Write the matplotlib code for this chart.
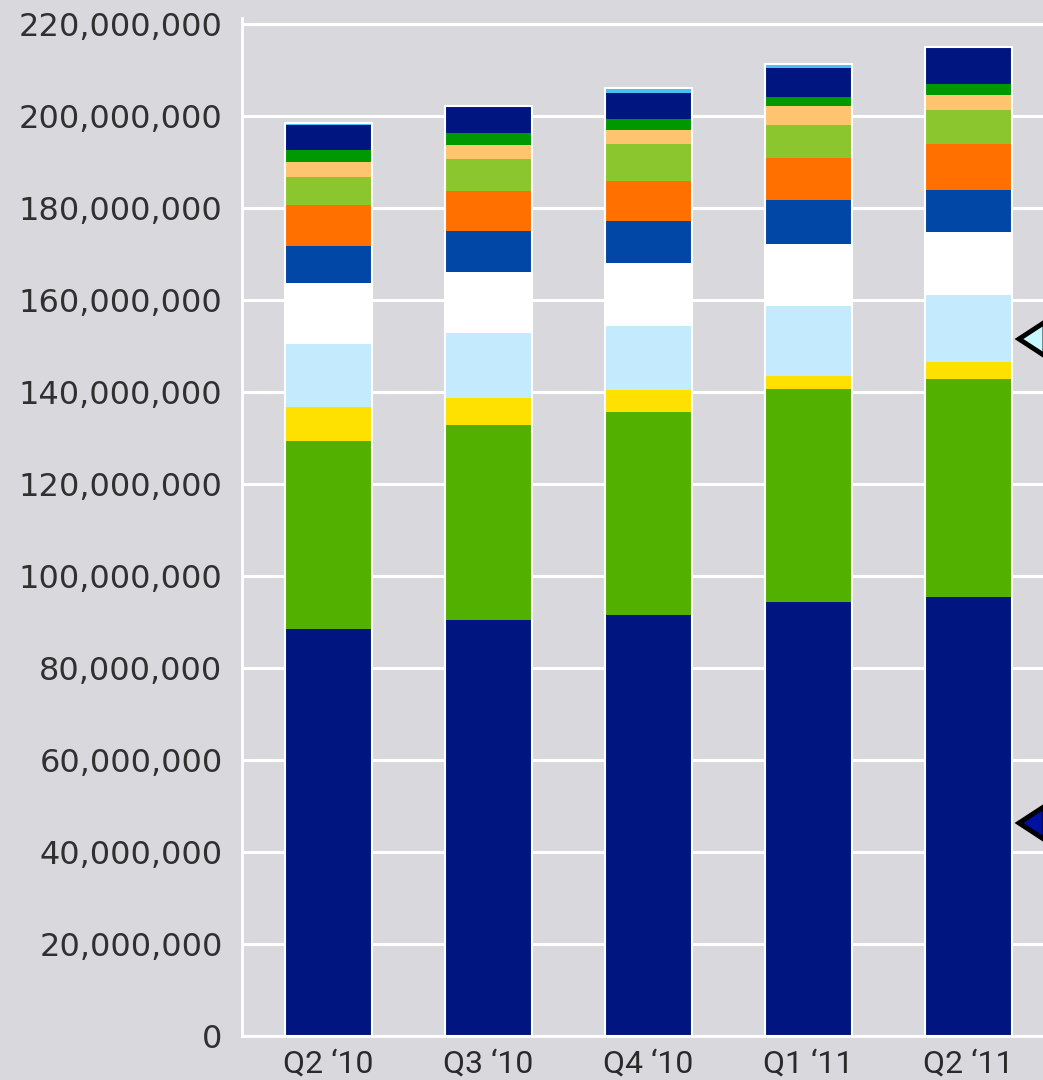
import numpy as np
import matplotlib
matplotlib.use('Agg')
import matplotlib.pyplot as plt
from matplotlib.patches import Polygon
from matplotlib.ticker import FuncFormatter, MultipleLocator

quarters = ["Q2 \u201810", "Q3 \u201810", "Q4 \u201810", "Q1 \u201811", "Q2 \u201811"]

# stacked segments, bottom to top, in millions
navy_base = [88.5, 90.4, 91.5, 94.3, 95.4]
green = [40.8, 42.4, 44.1, 46.4, 47.4]
yellow = [7.4, 5.9, 4.8, 2.7, 3.7]
pale_blue = [13.7, 14.1, 14.0, 15.4, 14.5]
white = [13.2, 13.2, 13.6, 13.3, 13.7]
blue = [8.2, 8.9, 9.1, 9.6, 9.3]
orange = [8.9, 8.8, 8.8, 9.2, 9.9]
lime = [6.0, 6.9, 8.0, 7.1, 7.5]
peach = [3.4, 3.2, 3.1, 4.2, 3.2]
dark_green = [2.4, 2.6, 2.4, 1.9, 2.3]
navy_top = [5.5, 5.5, 5.7, 6.4, 7.8]
sky = [0.5, 0.3, 0.9, 0.8, 0.2]

segments = [
    (navy_base, '#001580'),
    (green, '#52b000'),
    (yellow, '#ffe100'),
    (pale_blue, '#c4eafd'),
    (white, '#ffffff'),
    (blue, '#0047a6'),
    (orange, '#ff7000'),
    (lime, '#8bc62e'),
    (peach, '#ffc46f'),
    (dark_green, '#009800'),
    (navy_top, '#001580'),
    (sky, '#4cbcf5'),
]

BG = '#d9d8dd'
W, H = 1043, 1080

fig = plt.figure(figsize=(W / 100, H / 100), dpi=100, facecolor=BG)
ax = fig.add_axes([242 / W, 1 - 1036 / H, 1 - 242 / W, (1036 - 18) / H])
ax.set_facecolor(BG)

x = np.arange(len(quarters))
bottom = np.zeros(len(quarters))
for vals, col in segments:
    v = np.array(vals) * 1e6
    ax.bar(x, v, 0.54, bottom=bottom, color=col, linewidth=0, zorder=2)
    bottom += v

# white frame round each stack
ax.bar(x, bottom, 0.54, fill=False, edgecolor='white', linewidth=1.5, zorder=3)

ax.set_xlim(-0.54, 4.465)
ax.set_ylim(0, 221.3e6)
ax.yaxis.set_major_locator(MultipleLocator(20e6))
ax.yaxis.set_major_formatter(FuncFormatter(lambda v, p: f'{int(round(v)):,}'))
ax.grid(axis='y', color='white', linewidth=2.2, zorder=1)
ax.set_axisbelow(True)

for s in ['left', 'bottom']:
    ax.spines[s].set_color('white')
    ax.spines[s].set_linewidth(2)
ax.spines['right'].set_visible(False)
ax.spines['top'].set_visible(False)

ax.set_xticks(x)
ax.set_xticklabels(quarters, fontfamily='Roboto', fontsize=23, color='#2a2a2a')
ax.tick_params(axis='x', length=0, pad=10)
ax.tick_params(axis='y', length=0, pad=14, labelsize=23, labelcolor='#303030')

# legend pointers cut off at the right edge
def pointer(y_px, fill):
    tip = 1019
    verts = [(tip / W, 1 - y_px / H), ((tip + 26) / W, 1 - (y_px - 17) / H),
             ((tip + 26) / W, 1 - (y_px + 17) / H)]
    fig.add_artist(Polygon(verts, closed=True, facecolor=fill, edgecolor='black',
                           linewidth=3.5, transform=fig.transFigure, zorder=5))

pointer(339, '#c8f8ff')
pointer(823, '#0010a0')

fig.savefig('out.png', dpi=100, facecolor=BG)
